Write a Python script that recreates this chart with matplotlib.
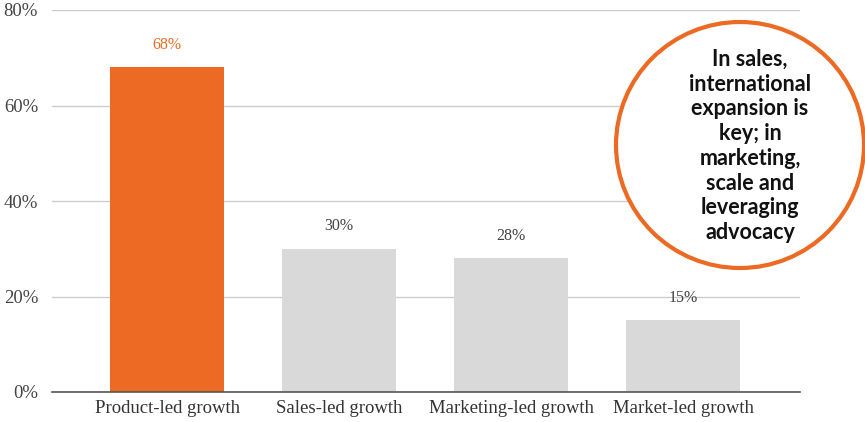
import matplotlib.pyplot as plt
from matplotlib.patches import Ellipse

categories = ["Product-led growth", "Sales-led growth", "Marketing-led growth", "Market-led growth"]
values = [68, 30, 28, 15]
bar_colors = ["#ec6a23", "#d9d9d9", "#d9d9d9", "#d9d9d9"]
label_colors = ["#ec6a23", "#444444", "#444444", "#444444"]
yticks = [0, 20, 40, 60, 80]
callout = "In sales,\ninternational\nexpansion is\nkey; in\nmarketing,\nscale and\nleveraging\nadvocacy"

serif = ["Liberation Serif", "DejaVu Serif"]

fig = plt.figure(figsize=(8.65, 4.22), dpi=100)
ax = fig.add_axes([52 / 865, 30 / 422, 748 / 865, 382 / 422])

x = range(len(categories))
ax.bar(x, values, width=0.66, color=bar_colors, zorder=2)
for i, v in enumerate(values):
    ax.text(i, v + 3, f"{v}%", ha="center", va="bottom", fontsize=11.5,
            color=label_colors[i], family=serif)

ax.set_ylim(0, 80)
ax.set_xlim(-0.67, 3.68)
ax.set_yticks(yticks)
ax.set_yticklabels([f"{t}%" for t in yticks], family=serif, fontsize=13.5, color="#444444")
ax.set_xticks(list(x))
ax.set_xticklabels(categories, family=serif, fontsize=13.5, color="#333333")
ax.tick_params(length=0, pad=6)
ax.tick_params(axis="y", pad=10)
ax.grid(axis="y", color="#cccccc", linewidth=1, zorder=0)
for s in ["top", "right", "left"]:
    ax.spines[s].set_visible(False)
ax.spines["bottom"].set_color("#555555")
ax.spines["bottom"].set_linewidth(1.2)

# callout bubble on the right
circle = Ellipse((740 / 865, 1 - 145 / 422), 248 / 865, 246 / 422,
                 transform=fig.transFigure, facecolor="white",
                 edgecolor="#ec6a23", linewidth=3, zorder=5)
fig.patches.append(circle)
fig.text(750 / 865, 1 - 146 / 422, callout, ha="center", va="center",
         fontsize=15.5, fontweight="bold", family=["Lato", "DejaVu Sans"],
         color="#111111", linespacing=1.22, zorder=6)

fig.savefig("out.png", dpi=100)
